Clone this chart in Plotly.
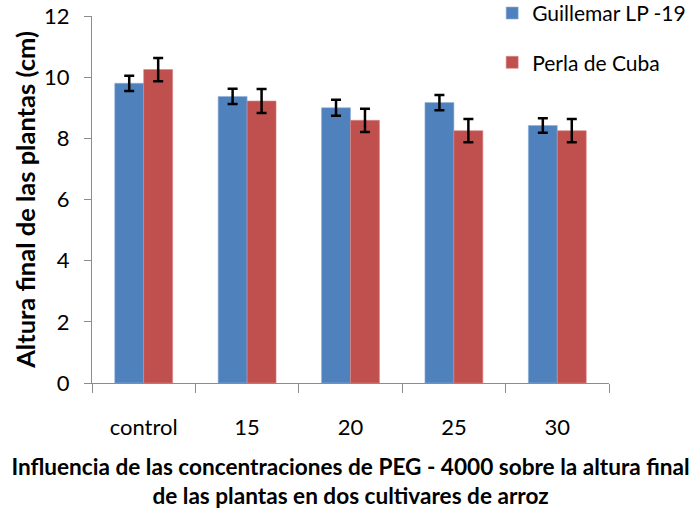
import plotly.graph_objects as go

categories = ["control", "15", "20", "25", "30"]
guillemar = [9.80, 9.37, 9.00, 9.17, 8.42]
guillemar_err = [0.25, 0.25, 0.26, 0.25, 0.24]
perla = [10.25, 9.22, 8.59, 8.25, 8.25]
perla_err = [0.38, 0.39, 0.38, 0.38, 0.38]
y_ticks = [0, 2, 4, 6, 8, 10, 12]

FONT = "Lato"
err_style = dict(type="data", visible=True, color="black", thickness=2.5, width=5)

fig = go.Figure()
fig.add_trace(go.Bar(
    x=categories, y=guillemar, name="Guillemar LP -19", legendgroup="g1",
    marker=dict(color="#4F81BD", line=dict(color="#8FB0DA", width=0.6)),
    error_y=dict(array=guillemar_err, **err_style),
))
fig.add_trace(go.Bar(
    x=categories, y=perla, name="Perla de Cuba", legendgroup="g2",
    marker=dict(color="#C0504D", line=dict(color="#D98785", width=0.6)),
    error_y=dict(array=perla_err, **err_style),
))

fig.update_layout(
    width=700, height=513,
    margin=dict(l=92, r=91, t=16, b=130, autoexpand=False),
    paper_bgcolor="white", plot_bgcolor="white",
    barmode="group", bargap=0.44, bargroupgap=0,
    font=dict(family=FONT, color="black", size=22),
    showlegend=True,
    legend=dict(
        x=0.774, xref="paper", y=1.063, yref="paper", xanchor="left", yanchor="top",
        font=dict(family=FONT, size=21, color="black"),
        tracegroupgap=19, bgcolor="rgba(0,0,0,0)",
    ),
    xaxis=dict(
        showline=True, linecolor="#8C8C8C", linewidth=1.3,
        ticks="outside", tickson="boundaries", ticklen=9, tickcolor="#8C8C8C",
        tickfont=dict(family=FONT, size=22), ticklabelstandoff=24,
        automargin=False,
        title=dict(
            text="<b>Influencia de las concentraciones de PEG - 4000 sobre la altura final<br>de las plantas en dos cultivares de arroz</b>",
            font=dict(family=FONT, size=22.6), standoff=20,
        ),
        showgrid=False,
    ),
    yaxis=dict(
        range=[0, 12], tickvals=y_ticks, showline=True, linecolor="#8C8C8C", linewidth=1.3,
        ticks="outside", ticklen=7, tickcolor="#8C8C8C",
        tickfont=dict(family=FONT, size=22), ticklabelstandoff=10,
        ticklabeloverflow="allow",
        automargin=False,
        showgrid=False, zeroline=False,
        title=dict(text="<b>Altura final de las plantas (cm)</b>", font=dict(family=FONT, size=25.5), standoff=0),
    ),
)

fig.write_html(
    "out.html",
    config={"displayModeBar": False},
    post_script="document.body.style.margin='0px';",
)
